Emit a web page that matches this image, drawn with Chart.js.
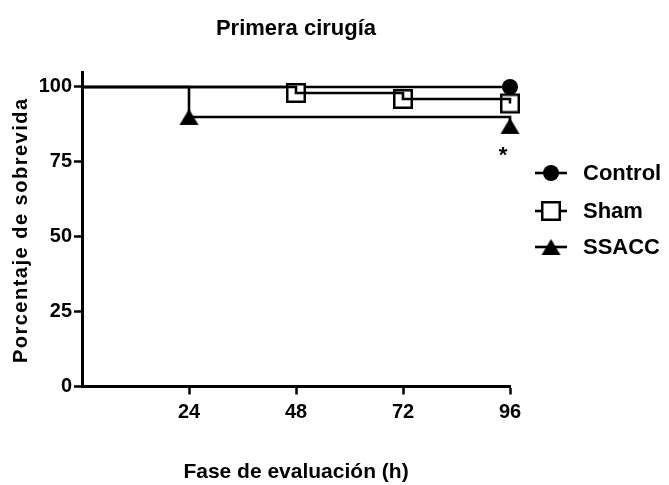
<!DOCTYPE html>
<html>
<head>
<meta charset="utf-8">
<script src="https://cdn.jsdelivr.net/npm/chart.js@4.4.1/dist/chart.umd.min.js"></script>
<style>
  body { margin: 0; background: #fff; }
  canvas { display: block; }
</style>
</head>
<body>
<canvas id="survival" width="669" height="485"></canvas>
<script>
  // survival data (hours, % alive)
  var controlHours = [0, 96];
  var controlSurv  = [100, 100];
  var shamHours = [0, 48, 72, 96];
  var shamSurv  = [100, 98, 96, 94.5];
  var ssaccHours = [0, 24, 96];
  var ssaccSurv  = [100, 90, 87];

  var xTicks = [24, 48, 72, 96];
  var yTicks = [0, 25, 50, 75, 100];
  var seriesNames = ['Control', 'Sham', 'SSACC'];

  var FONT = '"Liberation Sans", Arial, sans-serif';

  // marker images, drawn centred on the data point
  function makeMarker(kind) {
    var c = document.createElement('canvas');
    var g = c.getContext('2d');
    if (kind == 'circle') {
      c.width = 18; c.height = 18;
      g.fillStyle = '#000';
      g.beginPath(); g.arc(9, 9, 8, 0, Math.PI * 2); g.fill();
    } else if (kind == 'square') {
      c.width = 22; c.height = 22;
      g.fillStyle = '#fff';
      g.fillRect(2, 2, 18, 18);
      g.strokeStyle = '#000';
      g.lineWidth = 2.5;
      g.strokeRect(2.25, 2.25, 17.5, 17.5);
    } else {
      c.width = 21; c.height = 18;
      g.fillStyle = '#000';
      g.beginPath(); g.moveTo(10.5, 1); g.lineTo(20, 17); g.lineTo(1, 17); g.closePath(); g.fill();
    }
    return c;
  }
  var markers = [makeMarker('circle'), makeMarker('square'), makeMarker('triangle')];

  function toPoints(xs, ys) {
    return xs.map(function (x, i) { return { x: x, y: ys[i] }; });
  }
  // no marker at time 0
  function markerRadius(xs) {
    return xs.map(function (x) { return x == 0 ? 0 : 8; });
  }

  var datasets = [
    { label: 'Control', data: toPoints(controlHours, controlSurv), stepped: 'before',
      borderColor: '#000', borderWidth: 2.6, pointStyle: markers[0],
      pointRadius: markerRadius(controlHours), clip: false, order: 4 },
    // sham squares sit under the sham line
    { label: 'Sham', data: toPoints(shamHours, shamSurv), showLine: false,
      pointStyle: markers[1], pointRadius: markerRadius(shamHours), clip: false, order: 3 },
    { label: 'Sham line', data: toPoints(shamHours, shamSurv), stepped: 'before',
      borderColor: '#000', borderWidth: 2.6, pointRadius: 0, clip: false, order: 2 },
    { label: 'SSACC', data: toPoints(ssaccHours, ssaccSurv), stepped: 'before',
      borderColor: '#000', borderWidth: 2.6, pointStyle: markers[2],
      pointRadius: markerRadius(ssaccHours), clip: false, order: 1 }
  ];

  var extras = {
    id: 'extras',
    afterDraw: function (chart) {
      var ctx = chart.ctx, area = chart.chartArea;
      var xs = chart.scales.x, ys = chart.scales.y;
      ctx.save();
      ctx.fillStyle = '#000';

      // y axis title, letter spaced
      ctx.save();
      ctx.translate(26.5, (area.top + area.bottom) / 2 + 1);
      ctx.rotate(-Math.PI / 2);
      ctx.font = 'bold 20px ' + FONT;
      ctx.letterSpacing = '1.5px';
      ctx.textAlign = 'center';
      ctx.textBaseline = 'alphabetic';
      ctx.fillText('Porcentaje de sobrevida', 0, 0);
      ctx.restore();

      // significance mark at the end of SSACC
      ctx.font = 'bold 22px ' + FONT;
      ctx.textAlign = 'center';
      ctx.textBaseline = 'alphabetic';
      ctx.fillText('*', xs.getPixelForValue(96) - 7, ys.getPixelForValue(75));

      // legend
      var rowY = [173, 211, 247];
      ctx.strokeStyle = '#000';
      ctx.lineWidth = 2.6;
      ctx.font = 'bold 22px ' + FONT;
      ctx.textAlign = 'left';
      ctx.textBaseline = 'middle';
      for (var i = 0; i < seriesNames.length; i++) {
        ctx.beginPath();
        ctx.moveTo(535, rowY[i]);
        ctx.lineTo(567, rowY[i]);
        ctx.stroke();
        var m = markers[i];
        ctx.drawImage(m, 551 - m.width / 2, rowY[i] - m.height / 2);
        ctx.fillText(seriesNames[i], 583, rowY[i] + 1);
      }
      ctx.restore();
    }
  };

  var ctx = document.getElementById('survival').getContext('2d');

  new Chart(ctx, {
    type: 'line',
    data: { datasets: datasets },
    options: {
      responsive: false,
      animation: false,
      layout: { padding: { left: 0, right: 159, top: 0, bottom: 0 } },
      plugins: {
        legend: { display: false },
        tooltip: { enabled: false },
        title: {
          display: true,
          text: 'Primera cirugía',
          fullSize: false,
          color: '#000',
          font: { family: FONT, size: 22, weight: 'bold' },
          padding: { top: 15.5, bottom: 30.1 }
        }
      },
      scales: {
        x: {
          type: 'linear',
          min: 0, max: 96,
          afterBuildTicks: function (s) { s.ticks = xTicks.map(function (v) { return { value: v }; }); },
          afterFit: function (s) { s.height = 98.5; s.paddingLeft = 0; s.paddingRight = 0; },
          border: { display: true, color: '#000', width: 3 },
          grid: { drawOnChartArea: false, drawTicks: true, tickLength: 8, tickWidth: 2.5, tickColor: '#000' },
          ticks: { color: '#000', padding: 6, maxRotation: 0, font: { family: FONT, size: 20, weight: 'bold' } },
          title: {
            display: true, text: 'Fase de evaluación (h)', color: '#000',
            font: { family: FONT, size: 21, weight: 'bold' }, padding: { top: 0, bottom: 0 }
          }
        },
        y: {
          type: 'linear',
          min: 0, max: 105,
          afterBuildTicks: function (s) { s.ticks = yTicks.map(function (v) { return { value: v }; }); },
          afterFit: function (s) { s.width = 82; s.paddingTop = 0; s.paddingBottom = 0; },
          border: { display: true, color: '#000', width: 3 },
          grid: { drawOnChartArea: false, drawTicks: true, tickLength: 8, tickWidth: 2.5, tickColor: '#000' },
          ticks: { color: '#000', padding: 2, font: { family: FONT, size: 20, weight: 'bold' } }
        }
      }
    },
    plugins: [extras]
  });
</script>
</body>
</html>
